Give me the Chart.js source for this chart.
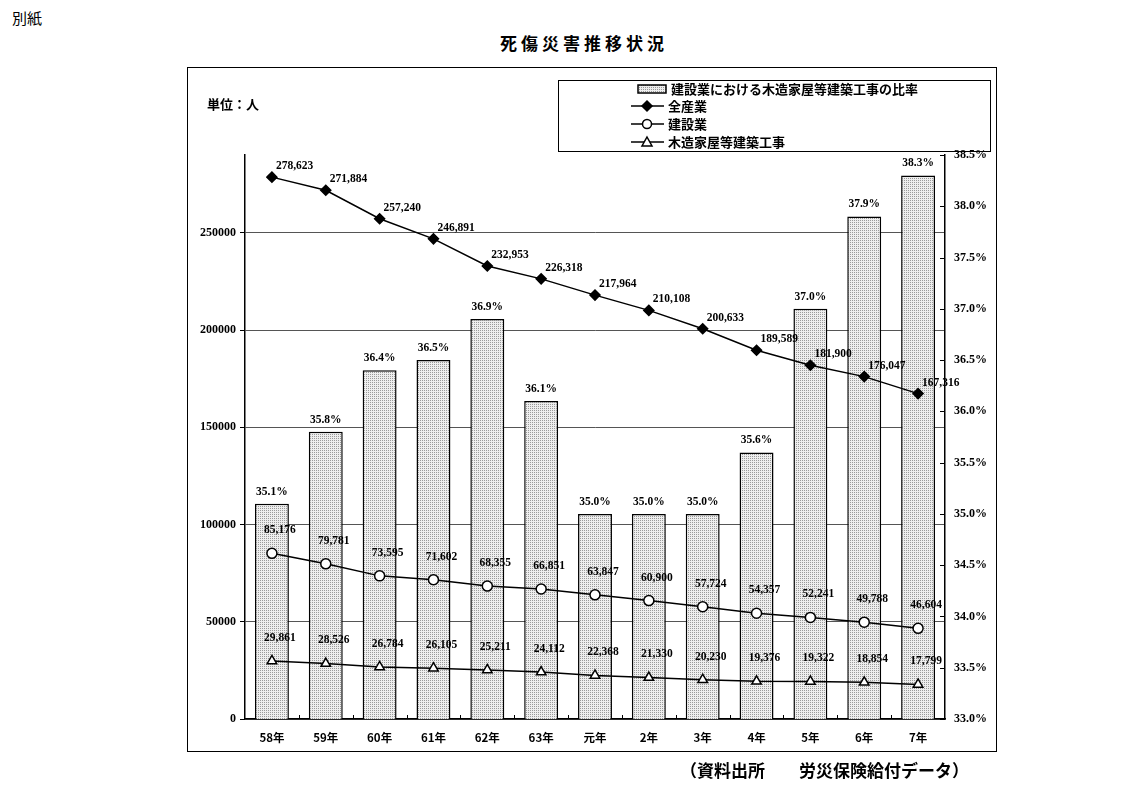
<!DOCTYPE html>
<html>
<head>
<meta charset="utf-8">
<script src="https://cdn.jsdelivr.net/npm/chart.js@4/dist/chart.umd.min.js"></script>
<style>
  html, body { margin:0; padding:0; background:#fff; }
  body { width:1121px; height:787px; position:relative; overflow:hidden; font-family:"Noto Sans CJK JP", sans-serif; color:#000; }
  .abs { position:absolute; white-space:nowrap; }
  #frame { position:absolute; left:187px; top:67px; width:808px; height:683px; border:1.5px solid #000; }
  #c { position:absolute; left:0; top:0; }
  #legend { position:absolute; left:558px; top:80px; width:431px; height:70px; border:1.5px solid #000; z-index:2; }
  .lg { position:absolute; font-size:13px; font-weight:bold; line-height:15px; }
  .sym { position:absolute; }
</style>
</head>
<body>
<div class="abs" style="left:12px;top:7px;font-size:15px;">別紙</div>
<div class="abs" style="left:500px;top:30px;font-size:17px;font-weight:bold;letter-spacing:4px;">死傷災害推移状況</div>
<div id="frame"></div>
<div class="abs" style="left:207px;top:94px;font-size:13px;font-weight:bold;z-index:2;">単位：人</div>
<canvas id="c" width="1121" height="787"></canvas>
<div id="legend"></div>
<div class="abs" style="left:680px;top:757px;font-size:17px;font-weight:bold;">（資料出所　　労災保険給付データ）</div>
<script>
// ---- data ----
const categories = ['58年','59年','60年','61年','62年','63年','元年','2年','3年','4年','5年','6年','7年'];
const ratioWood = [35.1, 35.8, 36.4, 36.5, 36.9, 36.1, 35.0, 35.0, 35.0, 35.6, 37.0, 37.9, 38.3];
const allIndustry = [278623, 271884, 257240, 246891, 232953, 226318, 217964, 210108, 200633, 189589, 181900, 176047, 167316];
const construction = [85176, 79781, 73595, 71602, 68355, 66851, 63847, 60900, 57724, 54357, 52241, 49788, 46604];
const woodenHouse = [29861, 28526, 26784, 26105, 25211, 24112, 22368, 21330, 20230, 19376, 19322, 18854, 17799];
const leftTicks = [0, 50000, 100000, 150000, 200000, 250000];
const rightTicks = [33.0, 33.5, 34.0, 34.5, 35.0, 35.5, 36.0, 36.5, 37.0, 37.5, 38.0, 38.5];
const seriesNames = ['建設業における木造家屋等建築工事の比率', '全産業', '建設業', '木造家屋等建築工事'];

// ---- dotted (stippled) pattern ----
const ctx0 = document.getElementById('c').getContext('2d');
const pattern = ctx0.createPattern((function(){
  const p = document.createElement('canvas'); p.width = 2; p.height = 2;
  const g = p.getContext('2d');
  g.fillStyle = '#eeeeee'; g.fillRect(0,0,2,2);
  g.fillStyle = '#9a9a9a';
  g.fillRect(0,0,1,1);
  return p;
})(), 'repeat');

const numFont = "bold 11.5px 'Liberation Serif', serif";

const labelPlugin = {
  id: 'valueLabels',
  afterDatasetsDraw(chart) {
    const ctx = chart.ctx;
    ctx.save();
    ctx.fillStyle = '#000';
    ctx.font = numFont;
    ctx.textBaseline = 'middle';
    chart.data.datasets.forEach((ds, i) => {
      const meta = chart.getDatasetMeta(i);
      meta.data.forEach((el, j) => {
        const v = ds.data[j];
        if (ds.type === 'bar') {
          ctx.textAlign = 'center';
          ctx.fillText(v.toFixed(1) + '%', el.x, el.y - 12);
        } else if (i === 1) {
          ctx.textAlign = 'left';
          ctx.fillText(v.toLocaleString('en-US'), el.x + 4, el.y - 11);
        } else {
          ctx.textAlign = 'center';
          ctx.fillText(v.toLocaleString('en-US'), el.x + 8, el.y - 23);
        }
      });
    });
    ctx.restore();
  }
};

const innerTicksPlugin = {
  id: 'innerTicks',
  afterDraw(chart) {
    const ctx = chart.ctx;
    const a = chart.chartArea;
    ctx.save();
    ctx.strokeStyle = '#000';
    ctx.lineWidth = 1;
    const y1 = chart.scales.y1;
    y1.ticks.forEach(t => {
      const y = Math.round(y1.getPixelForValue(t.value)) + 0.5;
      ctx.beginPath(); ctx.moveTo(a.right - 5, y); ctx.lineTo(a.right, y); ctx.stroke();
    });
    const x = chart.scales.x;
    for (let k = 1; k < categories.length; k++) {
      const px = Math.round((x.getPixelForValue(k - 1) + x.getPixelForValue(k)) / 2) + 0.5;
      ctx.beginPath(); ctx.moveTo(px, a.bottom - 4); ctx.lineTo(px, a.bottom); ctx.stroke();
    }
    ctx.restore();
  }
};

new Chart(document.getElementById('c'), {
  data: {
    labels: categories,
    datasets: [
      { type: 'bar', label: seriesNames[0], data: ratioWood, yAxisID: 'y1', order: 10,
        backgroundColor: pattern, borderColor: '#000', borderWidth: 1.5,
        barPercentage: 0.63, categoryPercentage: 1.0 },
      { type: 'line', label: seriesNames[1], data: allIndustry, yAxisID: 'y', order: 1,
        borderColor: '#000', borderWidth: 1.5, pointStyle: 'rectRot', pointRadius: 5,
        pointBackgroundColor: '#000', pointBorderColor: '#000', tension: 0 },
      { type: 'line', label: seriesNames[2], data: construction, yAxisID: 'y', order: 2,
        borderColor: '#000', borderWidth: 1.5, pointStyle: 'circle', pointRadius: 5,
        pointBackgroundColor: '#fff', pointBorderColor: '#000', pointBorderWidth: 1.5, tension: 0 },
      { type: 'line', label: seriesNames[3], data: woodenHouse, yAxisID: 'y', order: 3,
        borderColor: '#000', borderWidth: 1.5, pointStyle: 'triangle', pointRadius: 5.5,
        pointBackgroundColor: '#fff', pointBorderColor: '#000', pointBorderWidth: 1.5, tension: 0 }
    ]
  },
  options: {
    responsive: false,
    animation: false,
    events: [],
    layout: { padding: { left: 185, right: 124, top: 155, bottom: 38 } },
    plugins: { legend: { display: false }, tooltip: { enabled: false }, title: { display: false } },
    scales: {
      x: {
        type: 'category', offset: true,
        grid: { display: false, drawTicks: false },
        border: { display: true, color: '#000', width: 1.5 },
        ticks: { color: '#000', padding: 12, font: { family: "'Noto Sans CJK JP'", size: 11.5, weight: 'bold' } },
        afterFit(s) { s.height = 30; }
      },
      y: {
        position: 'left', min: 0, max: 290000,
        afterBuildTicks(s) { s.ticks = leftTicks.map(v => ({ value: v })); },
        grid: { display: true, drawOnChartArea: true, color: '#555', lineWidth: 1, drawTicks: true, tickLength: 5, tickColor: '#000' },
        border: { display: true, color: '#000', width: 1.5 },
        ticks: { color: '#000', padding: 4, font: { family: "'Liberation Serif', serif", size: 12, weight: 'bold' },
                 callback: v => String(v) },
        afterFit(s) { s.width = 60; }
      },
      y1: {
        position: 'right', min: 33, max: 38.5,
        afterBuildTicks(s) { s.ticks = rightTicks.map(v => ({ value: v })); },
        grid: { display: false, drawOnChartArea: false, drawTicks: false },
        border: { display: true, color: '#000', width: 1.5 },
        ticks: { color: '#000', padding: 9, font: { family: "'Liberation Serif', serif", size: 12, weight: 'bold' },
                 callback: v => Number(v).toFixed(1) + '%' },
        afterFit(s) { s.width = 52; }
      }
    }
  },
  plugins: [labelPlugin, innerTicksPlugin]
});

// ---- HTML legend ----
(function () {
  const lg = document.getElementById('legend');
  const L = 558, T = 80;
  const rows = [
    { y: 88, kind: 'box' },
    { y: 105, kind: 'diamond' },
    { y: 123, kind: 'circle' },
    { y: 141, kind: 'triangle' }
  ];
  rows.forEach((r, i) => {
    const c = document.createElement('canvas');
    c.width = 40; c.height = 16;
    c.className = 'sym';
    c.style.left = (628 - L) + 'px';
    c.style.top = (r.y - 8 - T) + 'px';
    const g = c.getContext('2d');
    g.strokeStyle = '#000'; g.lineWidth = 1.5;
    if (r.kind === 'box') {
      g.fillStyle = pattern; g.fillRect(9, 4, 28, 8);
      g.strokeRect(9, 4, 28, 8);
    } else {
      g.beginPath(); g.moveTo(2, 8); g.lineTo(35, 8); g.stroke();
      const cx = 18, cy = 8;
      g.beginPath();
      if (r.kind === 'diamond') {
        g.moveTo(cx, cy - 5); g.lineTo(cx + 5, cy); g.lineTo(cx, cy + 5); g.lineTo(cx - 5, cy); g.closePath();
        g.fillStyle = '#000'; g.fill(); g.stroke();
      } else if (r.kind === 'circle') {
        g.arc(cx, cy, 4.5, 0, Math.PI * 2); g.fillStyle = '#fff'; g.fill(); g.stroke();
      } else {
        g.moveTo(cx, cy - 5); g.lineTo(cx + 5, cy + 4); g.lineTo(cx - 5, cy + 4); g.closePath();
        g.fillStyle = '#fff'; g.fill(); g.stroke();
      }
    }
    lg.appendChild(c);
    const t = document.createElement('div');
    t.className = 'lg';
    t.textContent = seriesNames[i];
    t.style.left = (i === 0 ? 670 - L : 667 - L) + 'px';
    t.style.top = (r.y - 8 - T) + 'px';
    lg.appendChild(t);
  });
})();
</script>
</body>
</html>
